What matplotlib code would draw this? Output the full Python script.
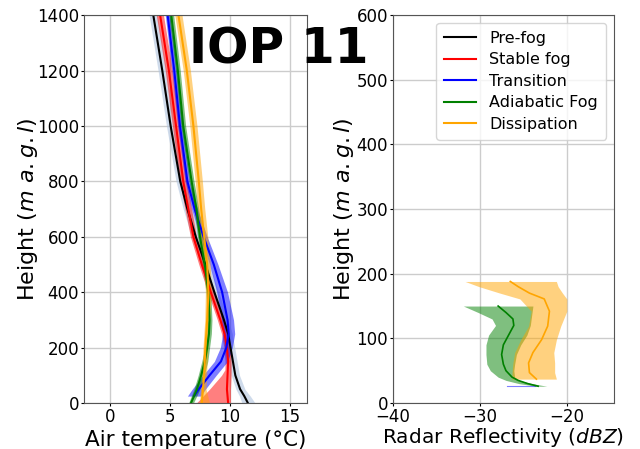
import numpy as np
import matplotlib
matplotlib.use("Agg")
import matplotlib.pyplot as plt

# --- Air temperature profiles (left panel) ---
h_pre = [0, 25, 50, 100, 150, 200, 250, 300, 400, 500, 600, 700, 800, 1000, 1200, 1400, 1500]
t_pre = [11.5, 11.2, 10.85, 10.45, 10.25, 10.05, 9.85, 9.5, 8.7, 7.95, 7.15, 6.45, 5.85, 5.05, 4.35, 3.6, 3.25]
t_pre_lo = [11.0, 10.8, 10.5, 10.1, 9.9, 9.7, 9.5, 9.15, 8.35, 7.6, 6.8, 6.1, 5.5, 4.7, 4.0, 3.25, 2.9]
t_pre_hi = [12.1, 11.7, 11.25, 10.8, 10.6, 10.4, 10.2, 9.85, 9.05, 8.3, 7.5, 6.8, 6.2, 5.4, 4.7, 3.95, 3.6]

h_stb = [0, 25, 50, 100, 120, 150, 200, 250, 300, 400, 500, 600, 800, 1000, 1200, 1400, 1500]
t_stb = [9.85, 9.8, 9.75, 9.8, 9.82, 9.85, 9.75, 9.55, 9.2, 8.4, 7.65, 6.95, 6.1, 5.5, 4.9, 4.17, 3.8]
t_stb_lo = [7.2, 7.75, 8.3, 9.3, 9.58, 9.6, 9.5, 9.3, 8.95, 8.15, 7.4, 6.7, 5.8, 5.2, 4.6, 3.85, 3.5]
t_stb_hi = [10.05, 10.05, 10.05, 10.1, 10.1, 10.1, 10.0, 9.8, 9.45, 8.65, 7.9, 7.2, 6.4, 5.8, 5.2, 4.45, 4.1]

h_trn = [25, 50, 100, 150, 200, 250, 300, 400, 500, 600, 700, 800, 1000, 1200, 1400, 1500]
t_trn = [7.0, 7.4, 8.3, 9.25, 9.7, 9.9, 9.8, 9.35, 8.65, 7.8, 7.05, 6.45, 5.83, 5.35, 4.8, 4.5]
t_trn_lo = [6.45, 6.85, 7.75, 8.7, 9.2, 9.4, 9.3, 8.9, 8.3, 7.5, 6.8, 6.25, 5.63, 5.15, 4.6, 4.3]
t_trn_hi = [7.55, 7.95, 8.85, 9.8, 10.2, 10.4, 10.3, 9.8, 9.0, 8.1, 7.3, 6.65, 6.03, 5.55, 5.0, 4.7]

h_adi = [0, 50, 100, 150, 200, 250, 300, 400, 500, 600, 700, 800, 1000, 1200, 1400, 1500]
t_adi = [6.75, 7.25, 7.6, 7.9, 8.1, 8.25, 8.3, 8.2, 7.9, 7.5, 7.2, 6.8, 6.1, 5.65, 5.1, 4.8]
t_adi_lo = [6.55, 7.0, 7.35, 7.65, 7.9, 8.05, 8.1, 8.0, 7.7, 7.3, 7.0, 6.6, 5.9, 5.45, 4.9, 4.6]
t_adi_hi = [6.95, 7.5, 7.85, 8.15, 8.3, 8.45, 8.5, 8.4, 8.1, 7.7, 7.4, 7.0, 6.3, 5.85, 5.3, 5.0]

h_dis = [0, 50, 100, 200, 300, 400, 500, 600, 700, 800, 1000, 1200, 1400, 1500]
t_dis = [7.65, 7.75, 7.85, 7.95, 8.1, 8.2, 8.1, 7.85, 7.6, 7.4, 6.95, 6.4, 5.7, 5.35]
t_dis_lo = [7.45, 7.55, 7.65, 7.75, 7.9, 7.95, 7.85, 7.55, 7.3, 7.1, 6.65, 6.1, 5.4, 5.05]
t_dis_hi = [8.3, 8.0, 8.05, 8.15, 8.3, 8.45, 8.35, 8.15, 7.9, 7.7, 7.25, 6.7, 6.0, 5.65]

# --- Radar reflectivity profiles (right panel) ---
h_z_adi = [26, 30, 35, 40, 50, 60, 75, 90, 105, 120, 130, 140, 150]
z_adi = [-23.3, -24.5, -25.6, -26.3, -27.0, -27.3, -27.5, -27.3, -26.7, -26.1, -26.2, -27.0, -27.9]
z_adi_lo = [-23.5, -25.5, -27.0, -27.9, -28.8, -29.2, -29.3, -29.3, -29.0, -28.2, -28.6, -30.2, -31.9]
z_adi_hi = [-22.3, -24.0, -25.5, -26.0, -26.1, -26.0, -25.8, -25.3, -24.6, -24.2, -24.1, -24.0, -23.9]

h_z_dis = [37, 47, 62, 78, 98, 119, 142, 161, 170, 180, 188]
z_dis = [-23.5, -24.3, -24.4, -23.9, -22.9, -22.2, -22.0, -22.6, -24.3, -25.6, -26.5]
z_dis_lo = [-26.3, -26.3, -26.2, -26.0, -25.3, -24.4, -24.1, -25.4, -27.7, -30.1, -31.7]
z_dis_hi = [-21.2, -21.4, -21.4, -21.5, -21.2, -20.7, -20.0, -20.0, -20.5, -21.0, -21.2]

h_z_trn = [26, 26]
z_trn = [-26.9, -23.7]

fig = plt.figure(figsize=(6.4, 4.49), dpi=100)
ax1 = fig.add_axes([0.131, 0.1024, 0.348, 0.864])
ax2 = fig.add_axes([0.614, 0.1024, 0.345, 0.864])

# left: temperature
ax1.fill_betweenx(h_pre, t_pre_lo, t_pre_hi, color="lightsteelblue", alpha=0.6, lw=0)
ax1.plot(t_pre, h_pre, color="black", lw=1.5, label="Pre-fog")
ax1.fill_betweenx(h_stb, t_stb_lo, t_stb_hi, color="red", alpha=0.5, lw=0)
ax1.plot(t_stb, h_stb, color="red", lw=1.5, label="Stable fog")
ax1.fill_betweenx(h_trn, t_trn_lo, t_trn_hi, color="blue", alpha=0.5, lw=0)
ax1.plot(t_trn, h_trn, color="blue", lw=1.5, label="Transition")
ax1.fill_betweenx(h_adi, t_adi_lo, t_adi_hi, color="green", alpha=0.5, lw=0)
ax1.plot(t_adi, h_adi, color="green", lw=1.5, label="Adiabatic Fog")
ax1.fill_betweenx(h_dis, t_dis_lo, t_dis_hi, color="orange", alpha=0.5, lw=0)
ax1.plot(t_dis, h_dis, color="orange", lw=1.5, label="Dissipation")

ax1.set_xlim(-2.2, 16.4)
ax1.set_ylim(0, 1400)
ax1.set_xticks([0, 5, 10, 15])
ax1.set_yticks(np.arange(0, 1401, 200))
ax1.set_xlabel("Air temperature (°C)", fontsize=15.5, labelpad=3)
ax1.set_ylabel(r"Height ($m\ a.g.l$)", fontsize=16, labelpad=-2)

# right: reflectivity
ax2.plot(z_trn, h_z_trn, color="blue", lw=0.8, alpha=0.5)
ax2.fill_betweenx(h_z_adi, z_adi_lo, z_adi_hi, color="green", alpha=0.5, lw=0)
ax2.plot(z_adi, h_z_adi, color="green", lw=1.2)
ax2.fill_betweenx(h_z_dis, z_dis_lo, z_dis_hi, color="orange", alpha=0.5, lw=0)
ax2.plot(z_dis, h_z_dis, color="orange", lw=1.2)

ax2.set_xlim(-40, -14.6)
ax2.set_ylim(0, 600)
ax2.set_xticks([-40, -30, -20])
ax2.set_yticks(np.arange(0, 601, 100))
ax2.set_xlabel(r"Radar Reflectivity ($dBZ$)", fontsize=14.5, labelpad=0)
ax2.set_ylabel(r"Height ($m\ a.g.l$)", fontsize=16, labelpad=0)

handles, labels = ax1.get_legend_handles_labels()
leg = ax2.legend(handles, labels, loc="upper right", fontsize=11.5, handlelength=2,
                 borderpad=0.5, labelspacing=0.4)
leg.get_frame().set_alpha(0.8)

for ax in (ax1, ax2):
    ax.tick_params(labelsize=12, length=2.5, pad=1)
    ax.grid(True, color="#cccccc", lw=1)
    ax.set_axisbelow(True)
    for s in ax.spines.values():
        s.set_color("#555555")

fig.text(0.435, 0.889, "IOP 11", fontsize=35, fontweight="bold", ha="center", va="center", zorder=10)

fig.savefig("out.png", dpi=100)
